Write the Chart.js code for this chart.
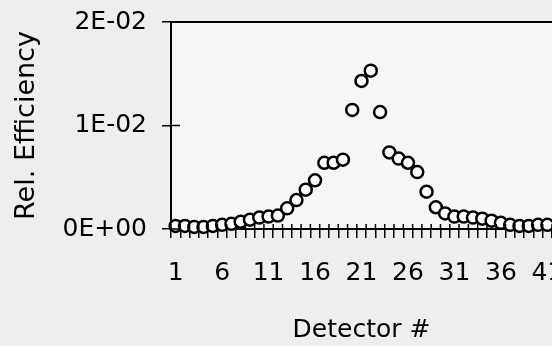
<!DOCTYPE html>
<html>
<head>
<meta charset="utf-8">
<script src="https://cdn.jsdelivr.net/npm/chart.js@4/dist/chart.umd.min.js"></script>
<style>
  html, body { margin: 0; padding: 0; background: #eeeeee; overflow: hidden; }
  #wrap { width: 552px; height: 346px; }
</style>
</head>
<body>
<div id="wrap"><canvas id="c" width="552" height="346"></canvas></div>
<script>
// Detector numbers along the x axis
const detectors = [];
for (let i = 1; i <= 41; i++) detectors.push(String(i));

// Relative efficiency per detector
const relEfficiency = [
  0.0003, 0.0003, 0.0002, 0.0002, 0.0003, 0.0004, 0.0005, 0.0007, 0.0009, 0.0011,
  0.0012, 0.0013, 0.0020, 0.0028, 0.0038, 0.0047, 0.0064, 0.0064, 0.0067, 0.0115,
  0.0143, 0.0153, 0.0113, 0.0074, 0.0068, 0.0064, 0.0055, 0.0036, 0.0021, 0.0015,
  0.0012, 0.0012, 0.0011, 0.0010, 0.0008, 0.0006, 0.0004, 0.0003, 0.0003, 0.0004,
  0.0004
];

// Value axis tick labels (scientific notation)
const yTickValues = [0, 0.01, 0.02];
const yTickLabels = ['0E+00', '1E-02', '2E-02'];

const FONT = 'DejaVu Sans';

// Plot background, top frame line and tick marks crossing the axes
const frame = {
  id: 'frame',
  beforeDraw(chart) {
    const { ctx, chartArea: a } = chart;
    ctx.save();
    ctx.fillStyle = '#f6f6f6';
    ctx.fillRect(a.left, a.top, a.right - a.left, a.bottom - a.top);
    ctx.restore();
  },
  afterDraw(chart) {
    const { ctx, chartArea: a, scales } = chart;
    const x = scales.x, y = scales.y;
    ctx.save();
    ctx.strokeStyle = '#000';
    // top frame line
    const yTop = y.getPixelForValue(y.max);
    ctx.lineWidth = 2;
    ctx.beginPath();
    ctx.moveTo(a.left, yTop);
    ctx.lineTo(a.right, yTop);
    ctx.stroke();
    ctx.lineWidth = 1.5;
    // inner half of x tick marks (category boundaries)
    const n = detectors.length;
    const yAxis = y.getPixelForValue(0);
    ctx.beginPath();
    for (let i = 0; i <= n; i++) {
      let px;
      if (i === 0) px = x.getPixelForValue(0) - (x.getPixelForValue(1) - x.getPixelForValue(0)) / 2;
      else if (i === n) px = x.getPixelForValue(n - 1) + (x.getPixelForValue(n - 1) - x.getPixelForValue(n - 2)) / 2;
      else px = (x.getPixelForValue(i - 1) + x.getPixelForValue(i)) / 2;
      ctx.moveTo(px, yAxis - 5);
      ctx.lineTo(px, yAxis);
    }
    ctx.stroke();
    // inner half of y tick marks
    ctx.beginPath();
    yTickValues.forEach(v => {
      const py = y.getPixelForValue(v);
      ctx.moveTo(a.left, py);
      ctx.lineTo(a.left + 9, py);
    });
    ctx.stroke();
    ctx.restore();
  }
};

new Chart(document.getElementById('c'), {
  type: 'line',
  data: {
    labels: detectors,
    datasets: [{
      data: relEfficiency,
      showLine: false,
      pointStyle: 'circle',
      pointRadius: 6,
      pointBorderWidth: 2.5,
      pointBorderColor: '#000',
      pointBackgroundColor: '#ffffff',
      clip: false
    }]
  },
  options: {
    responsive: false,
    animation: false,
    events: [],
    layout: { autoPadding: false, padding: { top: 22, right: 0, left: 0, bottom: 0 } },
    plugins: { legend: { display: false }, tooltip: { enabled: false } },
    scales: {
      x: {
        type: 'category',
        offset: true,
        afterFit(s) { s.height = 117; s.paddingRight = 0; s.paddingLeft = 0; },
        grid: {
          display: true, drawOnChartArea: false, drawTicks: true,
          tickLength: 9, color: '#000', lineWidth: 1.5, offset: true
        },
        border: { display: true, color: '#000', width: 2 },
        ticks: {
          autoSkip: false, maxRotation: 0, padding: 20,
          color: '#000', font: { family: FONT, size: 25 },
          callback(v, i) { return i % 5 === 0 ? detectors[i] : ''; }
        },
        title: {
          display: true, text: 'Detector #', color: '#000',
          font: { family: FONT, size: 25 }, padding: { top: 0, bottom: 1 }
        }
      },
      y: {
        min: 0, max: 0.02,
        afterFit(s) { s.width = 171; s.paddingTop = 0; s.paddingBottom = 0; },
        afterBuildTicks(s) { s.ticks = yTickValues.map(v => ({ value: v })); },
        grid: {
          display: true, drawOnChartArea: false, drawTicks: true,
          tickLength: 9, color: '#000', lineWidth: 1.5
        },
        border: { display: true, color: '#000', width: 2 },
        ticks: {
          padding: 15, color: '#000', font: { family: FONT, size: 25 },
          callback(v) { return yTickLabels[yTickValues.indexOf(v)]; }
        },
        title: {
          display: true, text: 'Rel. Efficiency', color: '#000',
          font: { family: FONT, size: 27 }, padding: { top: 11, bottom: 0 }
        }
      }
    }
  },
  plugins: [frame]
});
</script>
</body>
</html>
